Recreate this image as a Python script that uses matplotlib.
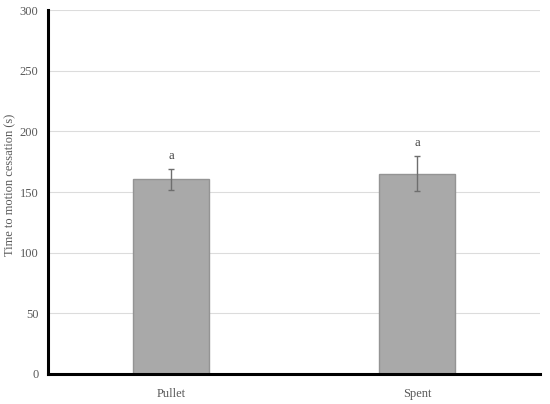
import matplotlib.pyplot as plt

groups = ["Pullet", "Spent"]
means = [160.5, 165]
errors = [8.5, 14.5]
letters = ["a", "a"]

plt.rcParams['font.family'] = ['Liberation Serif', 'DejaVu Serif']

fig = plt.figure(figsize=(5.5, 4.04), dpi=100)
ax = fig.add_axes([0.0873, 0.0743, 0.895, 0.9007])

x = list(range(len(groups)))
ax.bar(x, means, width=0.31, color="#a9a9a9", edgecolor="#949494",
       linewidth=1.0, zorder=2)
ax.errorbar(x, means, yerr=errors, fmt="none", ecolor="#6e6e6e",
            elinewidth=1.0, capsize=2.5, capthick=1.0, zorder=3)
for xi, m, e, lab in zip(x, means, errors, letters):
    ax.text(xi, m + e + 6, lab, ha="center", va="bottom",
            fontsize=9, color="#404040")

ax.set_xlim(-0.5, 1.5)
ax.set_ylim(0, 300)
ax.set_yticks(range(0, 301, 50))
ax.set_xticks(x)
ax.set_xticklabels(groups)
ax.tick_params(length=0, labelsize=9, colors="#595959")
ax.tick_params(axis="x", pad=10)
ax.tick_params(axis="y", pad=7)
ax.yaxis.grid(True, color="#dcdcdc", linewidth=0.8, zorder=0)
ax.set_axisbelow(True)
ax.set_ylabel("Time to motion cessation (s)", fontsize=9, color="#595959",
              va="center")
ax.yaxis.set_label_coords(-0.077, 0.52)

for side in ["top", "right"]:
    ax.spines[side].set_visible(False)
for side in ["left", "bottom"]:
    ax.spines[side].set_linewidth(2.2)
    ax.spines[side].set_color("black")

plt.savefig("out.png", dpi=100)
